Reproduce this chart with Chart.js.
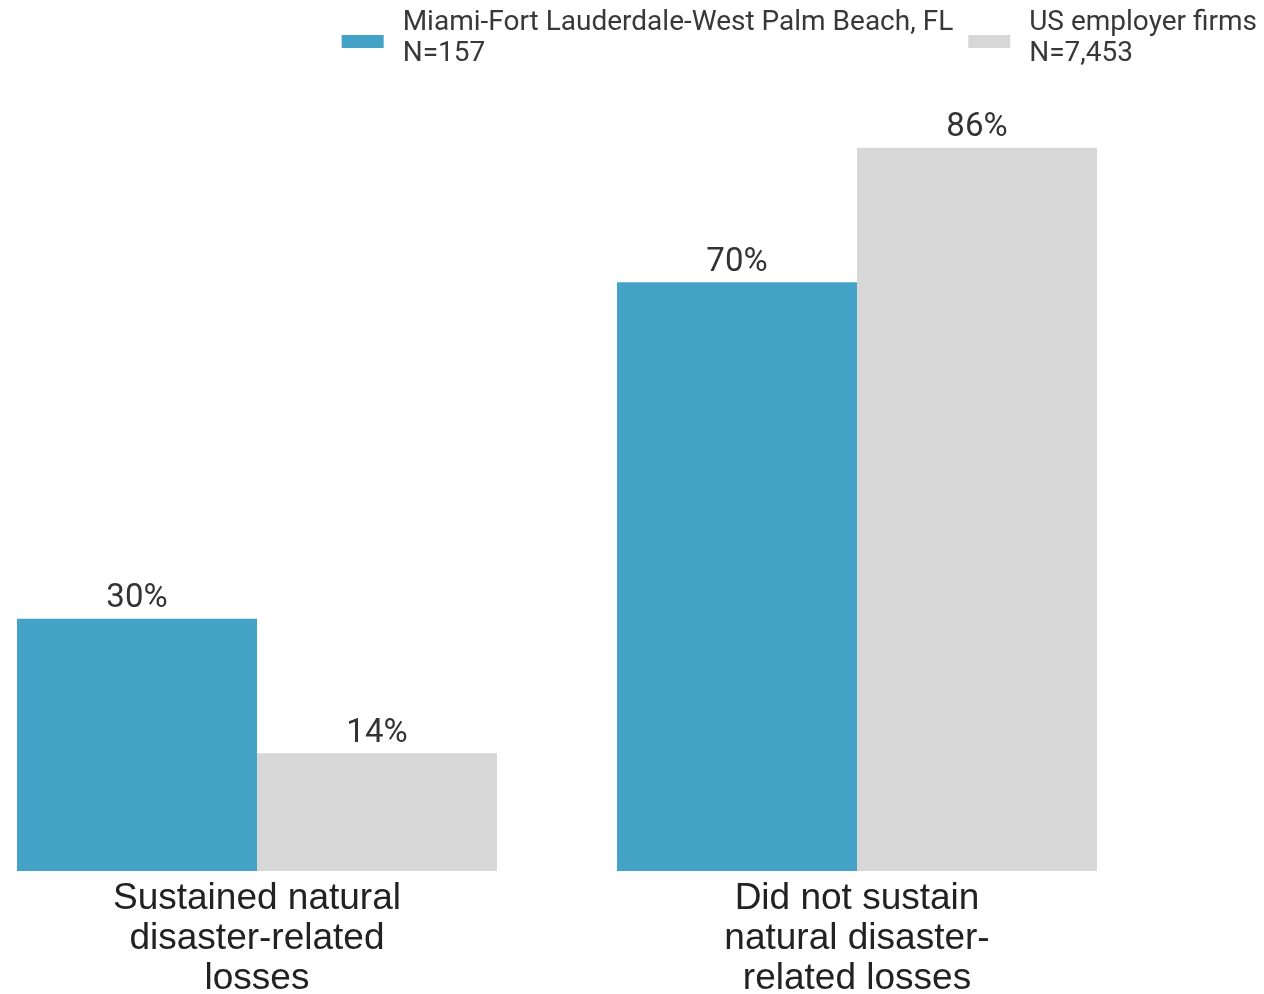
<!DOCTYPE html>
<html>
<head>
<meta charset="utf-8">
<script src="https://cdn.jsdelivr.net/npm/chart.js@4"></script>
<style>
  html, body { margin: 0; padding: 0; background: #fff; overflow: hidden; }
  #frame { position: relative; width: 1264px; height: 994px; overflow: hidden; }
  #wrap { position: absolute; left: -43px; top: 0; width: 1307px; height: 994px; }
</style>
</head>
<body>
<div id="frame"><div id="wrap"><canvas id="chart"></canvas></div></div>
<script>
// dados
const categories = [
  ["Sustained natural", "disaster-related", "losses"],
  ["Did not sustain", "natural disaster-", "related losses"]
];
const miamiLabel = ["Miami-Fort Lauderdale-West Palm Beach, FL", "N=157"];
const usLabel = ["US employer firms", "N=7,453"];
const miamiValues = [30, 70];
const usValues = [14, 86];

const blue = "#43a2c6";
const gray = "#d7d7d7";

// rótulos de valor acima das barras
const valueLabels = {
  id: "valueLabels",
  afterDatasetsDraw(chart) {
    const ctx = chart.ctx;
    ctx.save();
    ctx.font = "33px Roboto";
    ctx.fillStyle = "#333";
    ctx.textAlign = "center";
    ctx.textBaseline = "middle";
    chart.data.datasets.forEach((ds, i) => {
      chart.getDatasetMeta(i).data.forEach((bar, j) => {
        ctx.fillText(ds.data[j] + "%", bar.x, bar.y - 20);
      });
    });
    ctx.restore();
  }
};

// legenda desenhada à mão (duas linhas por item, caixa entre as linhas)
const twoLineLegend = {
  id: "twoLineLegend",
  afterDraw(chart) {
    const ctx = chart.ctx;
    const sets = chart.data.datasets;
    ctx.save();
    ctx.font = "28px Roboto";
    ctx.textBaseline = "middle";
    ctx.textAlign = "left";
    const widths = sets.map(ds => Math.max(...ds.label.map(t => ctx.measureText(t).width)));
    const boxW = 42, gap = 19, itemGap = 15;
    let x = chart.width - 7;
    const starts = [];
    for (let i = sets.length - 1; i >= 0; i--) {
      x -= widths[i] + gap + boxW;
      starts[i] = x;
      x -= itemGap;
    }
    sets.forEach((ds, i) => {
      ctx.fillStyle = ds.backgroundColor;
      ctx.fillRect(starts[i], 35, boxW, 13);
      ctx.fillStyle = "#383838";
      ds.label.forEach((t, k) => ctx.fillText(t, starts[i] + boxW + gap, 23 + k * 31));
    });
    ctx.restore();
  }
};

new Chart(document.getElementById("chart"), {
  type: "bar",
  data: {
    labels: categories,
    datasets: [
      { label: miamiLabel, data: miamiValues, backgroundColor: blue, borderWidth: 0 },
      { label: usLabel, data: usValues, backgroundColor: gray, borderWidth: 0 }
    ]
  },
  options: {
    responsive: true,
    maintainAspectRatio: false,
    animation: false,
    categoryPercentage: 0.8,
    barPercentage: 1.0,
    layout: { padding: { top: 30 } },
    plugins: {
      tooltip: { enabled: false },
      legend: { display: false }
    },
    scales: {
      x: {
        grid: { display: false, drawTicks: false },
        border: { display: false },
        ticks: {
          font: { family: "Liberation Sans", size: 37, lineHeight: 40 / 37 },
          color: "#222",
          padding: 8,
          maxRotation: 0,
          autoSkip: false
        },
        afterFit(scale) { scale.height = 123; }
      },
      y: {
        position: "right",
        min: 0,
        max: 100,
        grid: { display: false },
        border: { display: false },
        ticks: { display: false },
        afterFit(scale) { scale.width = 107; }
      }
    }
  },
  plugins: [valueLabels, twoLineLegend]
});
</script>
</body>
</html>
